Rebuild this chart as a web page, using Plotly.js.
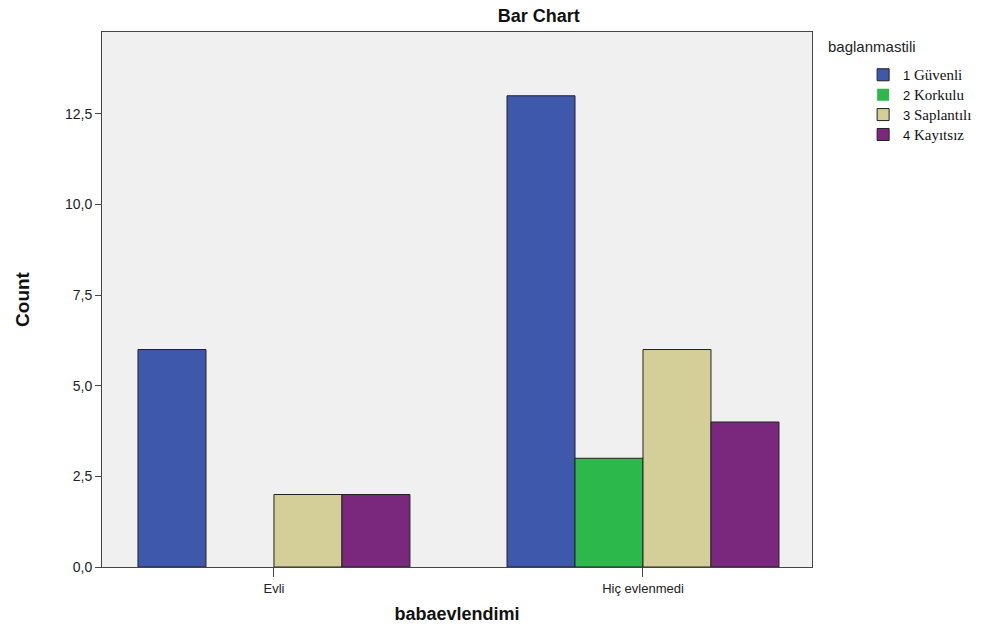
<!DOCTYPE html>
<html>
<head>
<meta charset="utf-8">
<script src="https://cdn.plot.ly/plotly-3.0.1.min.js"></script>
<style>html,body{margin:0;padding:0;background:#fff;}#chart{width:1005px;height:630px;}</style>
</head>
<body>
<div id="chart"></div>
<script>
var categories = ["Evli", "Hiç evlenmedi"];
var seriesCodes = ["1", "2", "3", "4"];
var seriesNames = ["Güvenli", "Korkulu", "Saplantılı", "Kayıtsız"];
var seriesValues = [
  [6, 13],
  [0, 3],
  [2, 6],
  [2, 4]
];
var seriesColors = ["#3e58ac", "#2db84b", "#d4ce98", "#7a287e"];
var yTicks = [0, 2.5, 5, 7.5, 10, 12.5];

var traces = seriesNames.map(function(n, i) {
  return {
    type: "bar",
    x: categories,
    y: seriesValues[i],
    name: seriesCodes[i] + " <span style=\"font-family:'Liberation Serif';font-size:15px\">" + n + "</span>",
    marker: {
      color: seriesColors[i],
      line: {color: "#222", width: seriesValues[i].map(function(v) { return v === 0 ? 0 : 1; })}
    },
    hoverinfo: "x+y"
  };
});

var layout = {
  width: 1005, height: 630,
  margin: {l: 102, r: 193, t: 32, b: 63},
  paper_bgcolor: "#ffffff",
  plot_bgcolor: "#f0f0f0",
  separators: ",.",
  barmode: "group",
  bargap: 0.263,
  bargroupgap: 0,
  font: {family: "Liberation Sans, Arial, sans-serif", color: "#222", size: 12},
  title: {text: "<b>Bar Chart</b>", x: 0.536, xanchor: "center", xref: "container", y: 0.975, yanchor: "middle", font: {size: 18, color: "#111"}},
  xaxis: {
    type: "category",
    range: [-0.466, 1.458],
    showline: true, mirror: true, linecolor: "#444", linewidth: 1,
    ticks: "outside", ticklen: 9, tickcolor: "#444",
    showgrid: false, zeroline: false,
    tickfont: {size: 13},
    title: {text: "<b>babaevlendimi</b>", font: {size: 18, color: "#111"}, standoff: 12}
  },
  yaxis: {
    range: [0, 14.76],
    tickvals: yTicks,
    tickformat: ".1f",
    showline: true, mirror: true, linecolor: "#444", linewidth: 1,
    ticks: "outside", ticklen: 6, tickcolor: "#444",
    showgrid: false, zeroline: false,
    tickfont: {size: 14},
    title: {text: "<b>Count</b>", font: {size: 19, color: "#111", family: "Liberation Sans Narrow, Arial Narrow, sans-serif"}, standoff: 30}
  },
  showlegend: true,
  legend: {
    x: 1.072, xanchor: "left", y: 0.948, yanchor: "top",
    bgcolor: "rgba(0,0,0,0)",
    font: {size: 13, color: "#111", family: "Liberation Sans, Arial, sans-serif"},
    itemwidth: 30,
    tracegroupgap: 0,
    traceorder: "normal"
  },
  annotations: [{
    text: "baglanmastili", xref: "paper", yref: "paper",
    x: 1.0197, y: 0.972, xanchor: "left", yanchor: "middle",
    showarrow: false, font: {size: 15, color: "#222"}
  }]
};

Plotly.newPlot("chart", traces, layout, {displayModeBar: false});
</script>
</body>
</html>
